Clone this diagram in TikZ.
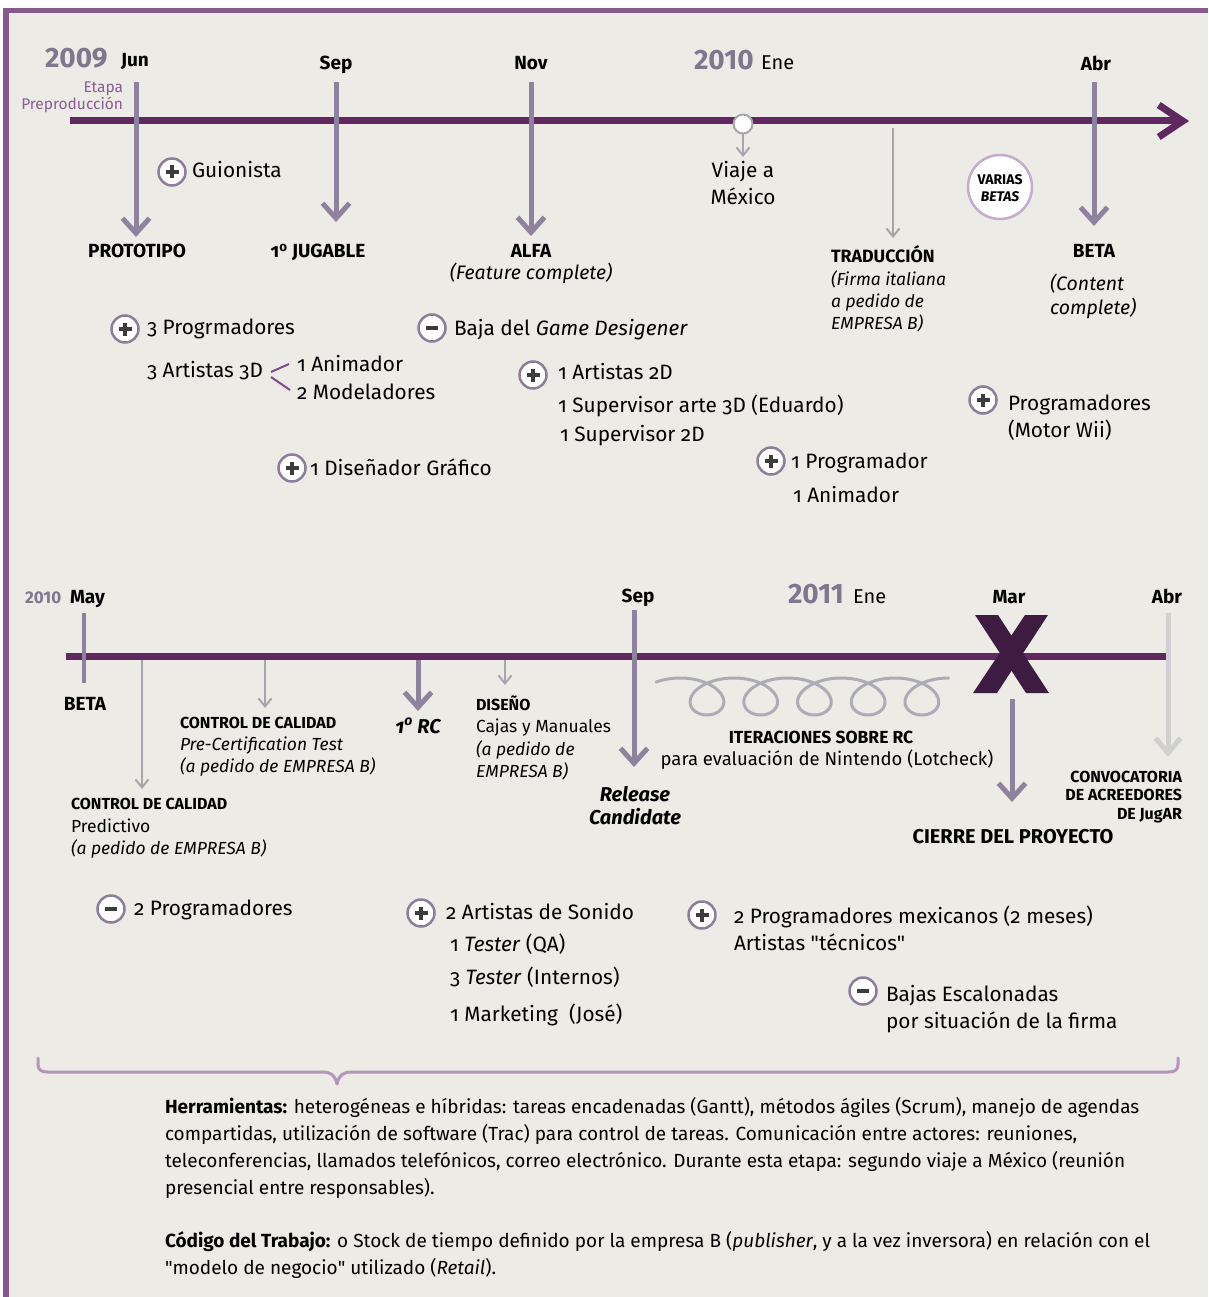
\documentclass[tikz,border=0pt]{standalone}
\usepackage{fontspec}
\setmainfont{Fira Sans}[Numbers=OldStyle]
\usetikzlibrary{arrows.meta}

\definecolor{bg}{RGB}{236,235,230}
\definecolor{framec}{RGB}{134,88,140}
\definecolor{tline}{RGB}{95,40,96}
\definecolor{milec}{RGB}{143,130,158}
\definecolor{thinc}{RGB}{165,165,170}
\definecolor{yearc}{RGB}{128,118,142}
\definecolor{etapac}{RGB}{140,92,150}
\definecolor{ringc}{RGB}{140,125,155}
\definecolor{signc}{RGB}{60,60,60}
\definecolor{xmarkc}{RGB}{62,28,66}
\definecolor{loopc}{RGB}{172,172,182}
\definecolor{lightc}{RGB}{208,208,208}
\definecolor{bracec}{RGB}{180,150,186}
\definecolor{betaring}{RGB}{195,172,208}
\definecolor{branchc}{RGB}{130,75,140}

\tikzset{
  every node/.style={inner sep=0pt, outer sep=0pt},
  txt/.style={anchor=base west, font=\fontsize{20.8}{24}\selectfont},
  note/.style={anchor=base west, font=\fontsize{17.5}{20}\selectfont},
  notei/.style={anchor=base west, font=\fontsize{17.5}{20}\selectfont\itshape},
  noteb/.style={anchor=base west, font=\fontsize{16}{19}\selectfont\bfseries},
  mlab/.style={anchor=base, font=\fontsize{19}{22}\selectfont\bfseries},
  mlabi/.style={anchor=base, font=\fontsize{20}{22}\selectfont\bfseries\itshape},
  month/.style={anchor=base, font=\fontsize{19}{22}\selectfont\bfseries},
  monthr/.style={anchor=base west, font=\fontsize{20}{22}\selectfont},
  year/.style={anchor=base west, text=yearc,
    font=\fontsize{28}{30}\selectfont\bfseries\addfontfeature{Numbers=Lining}},
  yearsmall/.style={anchor=base west, text=yearc,
    font=\fontsize{17}{19}\selectfont\bfseries\addfontfeature{Numbers=Lining}},
  para/.style={anchor=base west, font=\fontsize{19}{22}\selectfont},
  milearrow/.style={draw=milec, line width=5pt, -{Straight Barb[length=15pt,width=27pt]}},
  thinarrow/.style={draw=thinc, line width=2pt, -{Straight Barb[length=8pt,width=13pt]}},
  lightarrow/.style={draw=lightc, line width=5pt, -{Straight Barb[length=15pt,width=25pt]}},
  badge/.style={circle, draw=ringc, line width=2.5pt, fill=white, minimum size=27pt},
  plusc/.style={badge, path picture={
    \draw[signc, line width=3.4pt]
      ([xshift=-6.5pt]path picture bounding box.center) -- ([xshift=6.5pt]path picture bounding box.center)
      ([yshift=-6.5pt]path picture bounding box.center) -- ([yshift=6.5pt]path picture bounding box.center);}},
  minusc/.style={badge, path picture={
    \draw[signc, line width=3.4pt]
      ([xshift=-6pt]path picture bounding box.center) -- ([xshift=6pt]path picture bounding box.center);}},
}

\begin{document}
\begin{tikzpicture}[x=1pt, y=-1pt]
% page, panel and its frame
\useasboundingbox (0,0) rectangle (1208,1297);
\fill[white] (0,0) rectangle (1208,1297);
\fill[bg] (6,10) rectangle (1208,1297);
\fill[framec] (3,8) rectangle (1208,13);
\fill[framec] (3,8) rectangle (9,1297);

% ---------------- first timeline: 2009 - 2010 ----------------
\coordinate (t1a) at (70,121);
\coordinate (t1b) at (1189,121);
\draw[tline, line width=7pt, -{Straight Barb[length=24pt,width=32pt]}] (t1a) -- (t1b);

\node[year] (y2009) at (45,68) {2009};
\node[month, anchor=base west] (jun) at (121,67) {Jun};
\node[anchor=base east, text=etapac, font=\fontsize{15.5}{18}\selectfont] (etapa1) at (123,93) {Etapa};
\node[anchor=base east, text=etapac, font=\fontsize{15.5}{18}\selectfont] (etapa2) at (123,110) {Preproducción};
\node[month] (sep) at (336,70) {Sep};
\node[month] (nov) at (531,70) {Nov};
\node[year] (y2010) at (694,70) {2010};
\node[monthr] (ene) at (761,70) {Ene};
\node[month] (abr) at (1096,71) {Abr};

% milestones
\node[mlab] (proto) at (137,258) {PROTOTIPO};
\node[mlab] (jug) at (318,258) {1\textsuperscript{o} JUGABLE};
\node[mlab] (alfa) at (531,257) {ALFA};
\node[anchor=base, font=\fontsize{19.5}{22}\selectfont\itshape] (featc) at (531,279) {(Feature complete)};
\node[mlab] (beta1) at (1094,258) {BETA};
\node[anchor=base west, font=\fontsize{19.5}{22}\selectfont\itshape] (cont1) at (1050,290) {(Content};
\node[anchor=base west, font=\fontsize{19.5}{22}\selectfont\itshape] (cont2) at (1050,314) {complete)};

\coordinate (a1s) at (136,82);  \coordinate (a1e) at (136,237);
\coordinate (a2s) at (336,82);  \coordinate (a2e) at (336,222);
\coordinate (a3s) at (531,82);  \coordinate (a3e) at (531,236);
\coordinate (a4s) at (1094,82); \coordinate (a4e) at (1094,226);
\draw[milearrow] (a1s) -- (a1e);
\draw[milearrow] (a2s) -- (a2e);
\draw[milearrow] (a3s) -- (a3e);
\draw[milearrow] (a4s) -- (a4e);

% trip to Mexico
\node[circle, draw=thinc, line width=2pt, fill=white, minimum size=19pt] (viaje) at (743,124) {};
\coordinate (viajee) at (743,157);
\draw[thinarrow] (viaje.south) -- (viajee);
\node[anchor=base, font=\fontsize{20.8}{24}\selectfont] (viaje1) at (743,178) {Viaje a};
\node[anchor=base, font=\fontsize{20.8}{24}\selectfont] (viaje2) at (743,205) {México};

% translation
\coordinate (trs) at (893,128); \coordinate (tre) at (893,238);
\draw[thinarrow] (trs) -- (tre);
\node[anchor=base west, font=\fontsize{17.8}{20}\selectfont\bfseries] (trad) at (831,262) {TRADUCCIÓN};
\node[notei] (trad1) at (831,285) {(Firma italiana};
\node[notei] (trad2) at (831,307) {a pedido de};
\node[notei] (trad3) at (831,329) {EMPRESA B)};

% several betas
\node[circle, draw=betaring, line width=2.5pt, fill=white, minimum size=64pt] (betas) at (1000,187) {};
\node[anchor=base, font=\fontsize{14}{16}\selectfont\bfseries] (betas1) at (1000,185) {VARIAS};
\node[anchor=base, font=\fontsize{14}{16}\selectfont\bfseries\itshape] (betas2) at (1000,202) {BETAS};

% staff changes, first period
\node[plusc] (p1) at (172,172) {};
\node[txt] (guion) at (192,178) {Guionista};

\node[plusc] (p2) at (125,329) {};
\node[txt] (prog3) at (147,334) {3 Progrmadores};
\node[txt] (art3d) at (147,377) {3 Artistas 3D};
\node[txt] (anim) at (297,371) {1 Animador};
\node[txt] (model) at (297,399) {2 Modeladores};
\coordinate (br0) at (271,372); \coordinate (br1) at (289,364);
\coordinate (br2) at (271,377); \coordinate (br3) at (290,390);
\draw[branchc, line width=2pt] (br0) -- (br1) (br2) -- (br3);

\node[plusc] (p3) at (292,468) {};
\node[txt] (disg) at (310,475) {1 Diseñador Gráfico};

\node[minusc] (m1) at (432,328) {};
\node[txt] (baja) at (454,335) {Baja del \textit{Game Desigener}};

\node[plusc] (p4) at (533,375) {};
\node[txt] (art2d) at (558,379) {1 Artistas 2D};
\node[txt] (sup3d) at (558,412) {1 Supervisor arte 3D (Eduardo)};
\node[txt] (sup2d) at (560,441) {1 Supervisor 2D};

\node[plusc] (p5) at (771,461) {};
\node[txt] (prog1) at (791,468) {1 Programador};
\node[txt] (anim1) at (793,502) {1 Animador};

\node[plusc] (p6) at (983,400) {};
\node[txt] (progw) at (1008,410) {Programadores};
\node[txt] (motor) at (1008,437) {(Motor Wii)};

% ---------------- second timeline: 2010 - 2011 ----------------
\coordinate (t2a) at (66,656);
\coordinate (t2b) at (1166,656);
\draw[tline, line width=7pt] (t2a) -- (t2b);

\node[yearsmall] (y2010b) at (25,603) {2010};
\node[month, anchor=base west] (may) at (70,603) {May};
\node[month] (sep2) at (638,602) {Sep};
\node[year] (y2011) at (788,603) {2011};
\node[monthr] (ene2) at (853,603) {Ene};
\node[month] (mar) at (1009,603) {Mar};
\node[month] (abr2) at (1167,603) {Abr};

% beta tick
\coordinate (mayt) at (84,613); \coordinate (mayb) at (84,683);
\draw[milec, line width=4pt] (mayt) -- (mayb);
\node[mlab] (beta2) at (85,710) {BETA};

% quality control, predictive
\coordinate (q1s) at (142,660); \coordinate (q1e) at (142,789);
\draw[thinarrow] (q1s) -- (q1e);
\node[noteb] (qc1) at (71,809) {CONTROL DE CALIDAD};
\node[note] (qc1a) at (71,832) {Predictivo};
\node[notei] (qc1b) at (71,854) {(a pedido de EMPRESA B)};

% quality control, pre-certification
\coordinate (q2s) at (265,660); \coordinate (q2e) at (265,708);
\draw[thinarrow] (q2s) -- (q2e);
\node[noteb] (qc2) at (180,728) {CONTROL DE CALIDAD};
\node[notei] (qc2a) at (180,750) {Pre-Certification Test};
\node[notei] (qc2b) at (180,772) {(a pedido de EMPRESA B)};

% first release candidate
\coordinate (rc1s) at (418,660); \coordinate (rc1e) at (418,711);
\draw[milearrow] (rc1s) -- (rc1e);
\node[mlabi] (rc1) at (418,733) {1\textsuperscript{o} RC};

% design
\coordinate (dss) at (505,660); \coordinate (dse) at (505,685);
\draw[thinarrow] (dss) -- (dse);
\node[noteb] (dis) at (476,710) {DISEÑO};
\node[note] (dis1) at (476,732) {Cajas y Manuales};
\node[notei] (dis2) at (476,755) {(a pedido de};
\node[notei] (dis3) at (476,777) {EMPRESA B)};

% release candidate
\coordinate (rcs) at (634,610); \coordinate (rce) at (634,767);
\draw[milearrow] (rcs) -- (rce);
\node[mlabi] (rel1) at (635,801) {Release};
\node[mlabi] (rel2) at (635,824) {Candidate};

% iterations over the release candidate
\draw[loopc, line width=3pt, line cap=round]
  plot[domain=-0.68:31.416, samples=500, variable=\t, smooth]
  ({680.1+8.55*\t+29*sin(\t r)}, {696.5-18.5*cos(\t r)});
\node[anchor=base, font=\fontsize{17.5}{20}\selectfont\bfseries] (iter) at (821,743) {ITERACIONES SOBRE RC};
\node[anchor=base, font=\fontsize{18.5}{21}\selectfont] (iter2) at (827,765) {para evaluación de Nintendo (Lotcheck)};

% project closed
\fill[xmarkc] (975,615) -- (998,615) -- (1049,693) -- (1026,693) -- cycle;
\fill[xmarkc] (1025,615) -- (1048,615) -- (997,693) -- (973,693) -- cycle;
\coordinate (cls) at (1012,699); \coordinate (cle) at (1012,802);
\draw[milearrow] (cls) -- (cle);
\node[anchor=base, font=\fontsize{20}{22}\selectfont\bfseries] (cierre) at (1013,843) {CIERRE DEL PROYECTO};

% creditors
\coordinate (crs) at (1168,613); \coordinate (cre) at (1168,757);
\draw[lightarrow] (crs) -- (cre);
\node[anchor=base east, font=\fontsize{16}{18}\selectfont\bfseries] (conv1) at (1182,782) {CONVOCATORIA};
\node[anchor=base east, font=\fontsize{16}{18}\selectfont\bfseries] (conv2) at (1182,800) {DE ACREEDORES};
\node[anchor=base east, font=\fontsize{16}{18}\selectfont\bfseries] (conv3) at (1182,819) {DE JugAR};

% staff changes, second period
\node[minusc] (m2) at (111,909) {};
\node[txt] (prog2) at (134,915) {2 Programadores};

\node[plusc] (p7) at (421,913) {};
\node[txt] (sonido) at (446,919) {2 Artistas de Sonido};
\node[txt] (tqa) at (450,951) {1 \textit{Tester} (QA)};
\node[txt] (tint) at (450,984) {3 \textit{Tester} (Internos)};
\node[txt] (mkt) at (450,1021) {1 Marketing\ \ (José)};

\node[plusc] (p8) at (702,915) {};
\node[txt] (mex) at (734,923) {2 Programadores mexicanos (2 meses)};
\node[txt] (tec) at (734,950) {Artistas \textquotedbl técnicos\textquotedbl};

\node[minusc] (m3) at (863,991) {};
\node[txt] (bajas) at (886,1001) {Bajas Escalonadas};
\node[txt] (bajas2) at (886,1028) {por situación de la firma};

% brace over the summary
\coordinate (bl) at (38,1058);
\coordinate (bm) at (337,1084);
\coordinate (bri) at (1178,1058);
\draw[bracec, line width=3pt, line cap=round, line join=round]
  (bl) -- (38,1064) .. controls (38,1070) and (41,1072) .. (48,1072)
  -- (322,1072) .. controls (331,1072) and (335,1075) .. (bm)
  .. controls (339,1075) and (343,1072) .. (352,1072)
  -- (1168,1072) .. controls (1175,1072) and (1178,1070) .. (1178,1064) -- (bri);

% summary
\node[para] (h1) at (165,1113) {\textbf{Herramientas:} heterogéneas e híbridas: tareas encadenadas (Gantt), métodos ágiles (Scrum), manejo de agendas};
\node[para] (h2) at (165,1140) {compartidas, utilización de software (Trac) para control de tareas. Comunicación entre actores: reuniones,};
\node[para] (h3) at (165,1167) {teleconferencias, llamados telefónicos, correo electrónico. Durante esta etapa: segundo viaje a México (reunión};
\node[para] (h4) at (165,1194) {presencial entre responsables).};
\node[para] (c1) at (165,1247) {\textbf{Código del Trabajo:} o Stock de tiempo definido por la empresa B (\textit{publisher}, y a la vez inversora) en relación con el};
\node[para] (c2) at (165,1274) {\textquotedbl modelo de negocio\textquotedbl\ utilizado (\textit{Retail}).};
\end{tikzpicture}
\end{document}
